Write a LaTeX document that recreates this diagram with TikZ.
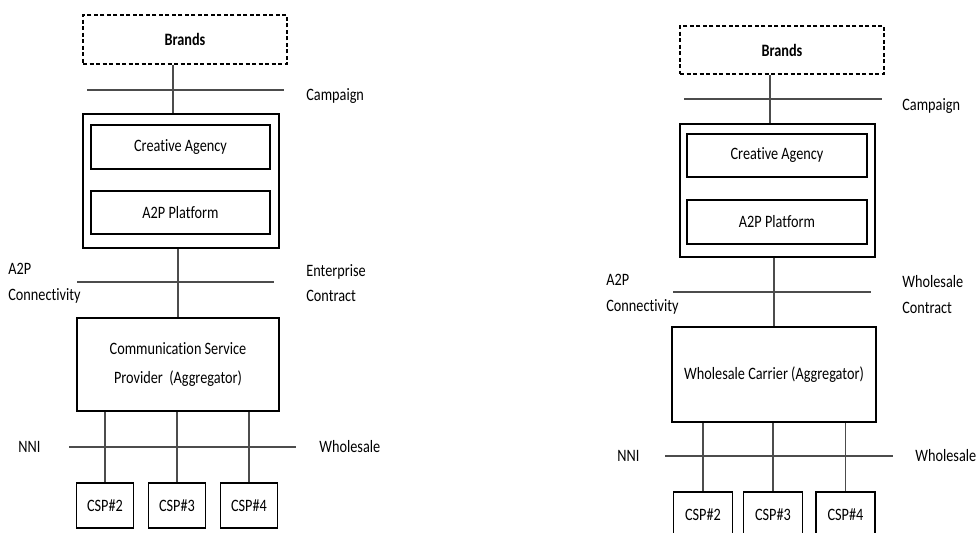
\documentclass[tikz,border=0pt]{standalone}
\usepackage{fontspec}
\setmainfont{Carlito}[FakeStretch=0.82, Ligatures=NoCommon]
\tikzset{
  sz/.style 2 args={minimum width=#1*0.02cm, minimum height=#2*0.02cm},
  blk/.style={draw, line width=1.1pt, inner sep=0pt},
  dashblk/.style={draw, line width=1.1pt, dash pattern=on 2.4pt off 1.3pt, inner sep=0pt},
  lnk/.style={line width=0.6pt, black!70},
  lbl/.style={anchor=west, inner sep=0pt, align=left}
}
\begin{document}
\begin{tikzpicture}[x=0.02cm, y=-0.02cm, font=\fontsize{9.9}{14.7}\selectfont]
\clip (0,0) rectangle (976,533);

% left: service provider as aggregator
\node[dashblk, sz={204}{49}] (brandsA) at (185,39.5) {\textbf{Brands}};
\node[blk, sz={196}{134}] (frameA) at (181,181) {};
\node[blk, sz={179}{44}] (creativeA) at (180.5,147) {Creative Agency};
\node[blk, sz={179}{43}] (platformA) at (180.5,212.5) {A2P Platform};
\node[blk, sz={202}{93}, align=center] (aggA) at (178,364.5)
  {Communication Service\\[1.7pt]Provider \ (Aggregator)};
\foreach \n/\x in {2/105,3/177,4/249}{
  \node[blk, sz={57}{45}] (cspA\n) at (\x,505.5) {CSP\#\n};
  \draw[lnk] (aggA.south -| cspA\n.north) -- (cspA\n.north);
}
\coordinate (upA) at (173,0);
\coordinate (midA) at (178,0);
\draw[lnk] (brandsA.south -| upA) -- (frameA.north -| upA);
\draw[lnk] (frameA.south -| midA) -- (aggA.north -| midA);

\draw[lnk] (87,90) -- (284,90);
\draw[lnk] (77,282) -- (274,282);
\draw[lnk] (69,447) -- (296,447);
\node[lbl] (campA) at (306,96) {Campaign};
\node[lbl] (connA) at (8,283) {A2P\\Connectivity};
\node[lbl] (contractA) at (306,283) {Enterprise\\Contract};
\node[lbl] (nniA) at (18,447) {NNI};
\node[lbl] (wsA) at (319,447) {Wholesale};

% right: wholesale carrier as aggregator
\node[dashblk, sz={204}{48}] (brandsB) at (782,50) {\textbf{Brands}};
\node[blk, sz={195}{133}] (frameB) at (777.5,190.5) {};
\node[blk, sz={180}{43}] (creativeB) at (777,155.5) {Creative Agency};
\node[blk, sz={180}{44}] (platformB) at (777,222) {A2P Platform};
\node[blk, sz={204}{95}] (aggB) at (774,374.5) {Wholesale Carrier (Aggregator)};
\foreach \n/\x in {2/703,3/773,4/845.5}{
  \node[blk, sz={59}{45}] (cspB\n) at (\x,514.5) {CSP\#\n};
  \draw[lnk] (aggB.south -| cspB\n.north) -- (cspB\n.north);
}
\coordinate (upB) at (770,0);
\coordinate (midB) at (774,0);
\draw[lnk] (brandsB.south -| upB) -- (frameB.north -| upB);
\draw[lnk] (frameB.south -| midB) -- (aggB.north -| midB);

\draw[lnk] (684,99) -- (882,99);
\draw[lnk] (673,292) -- (871,292);
\draw[lnk] (665,456) -- (893,456);
\node[lbl] (campB) at (902,106) {Campaign};
\node[lbl] (connB) at (606,294.5) {A2P\\Connectivity};
\node[lbl] (contractB) at (902,294.5) {Wholesale\\Contract};
\node[lbl] (nniB) at (617,456) {NNI};
\node[lbl] (wsB) at (915,456) {Wholesale};
\end{tikzpicture}
\end{document}
